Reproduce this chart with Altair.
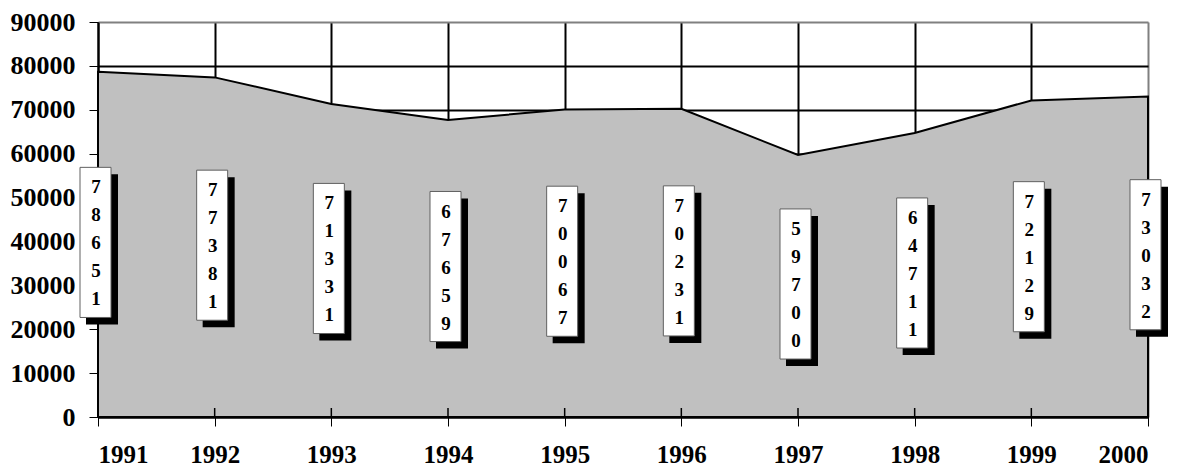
import altair as alt
import pandas as pd

years = [1991, 1992, 1993, 1994, 1995, 1996, 1997, 1998, 1999, 2000]
values = [78651, 77381, 71331, 67659, 70067, 70231, 59700, 64711, 72129, 73032]
y_ticks = [0, 10000, 20000, 30000, 40000, 50000, 60000, 70000, 80000, 90000]

df = pd.DataFrame({"year": years, "value": values})
df["label"] = ["\n".join(str(v)) for v in values]

FONT = "Liberation Serif"

xscale = alt.Scale(domain=[1991, 2000], nice=False, zero=False, padding=0)
yscale = alt.Scale(domain=[0, 90000], nice=False, padding=0)

x_axis = alt.Axis(values=years, format="d", title=None, labelFont=FONT, labelFontWeight="bold",
                  labelFontSize=25, labelColor="black", labelPadding=16, tickSize=9,
                  tickColor="black", tickWidth=1, domainColor="black", domainWidth=2,
                  grid=True, gridWidth=2,
                  gridColor={"condition": {"test": "datum.value === 2000", "value": "#808080"}, "value": "black"})
y_axis = alt.Axis(values=y_ticks, format="d", title=None, labelFont=FONT, labelFontWeight="bold",
                  labelFontSize=26, labelColor="black", labelPadding=14, tickSize=9,
                  tickColor="black", tickWidth=1, domainColor="black", domainWidth=2,
                  grid=True, gridWidth=2,
                  gridColor={"condition": {"test": "datum.value === 90000", "value": "#808080"}, "value": "black"})

base = alt.Chart(df)

X = alt.X("year:Q", scale=xscale, axis=x_axis)

area = base.mark_area(color="#C0C0C0", stroke="black", strokeWidth=2).encode(
    x=X,
    y=alt.Y("value:Q", scale=yscale, axis=y_axis),
)

ticks = base.mark_rule(color="black", strokeWidth=1.5).encode(
    x=X,
    y=alt.value(395),
    y2=alt.value(386),
)

boxes = base.transform_calculate(
    top="datum.value / 2 + 17100", bot="datum.value / 2 - 17100"
)

shadow = boxes.mark_bar(color="black", width=32, xOffset=4, yOffset=5, y2Offset=5).encode(
    x=X,
    y=alt.Y("top:Q", scale=yscale, axis=y_axis),
    y2="bot:Q",
)

box = boxes.mark_bar(fill="white", stroke="#606060", strokeWidth=1, width=31, xOffset=-2.5,
                     yOffset=-2, y2Offset=-2).encode(
    x=X,
    y=alt.Y("top:Q", scale=yscale, axis=y_axis),
    y2="bot:Q",
)

text = boxes.transform_calculate(mid="datum.value / 2").mark_text(
    font=FONT, fontWeight="bold", fontSize=19, color="black", lineBreak="\n",
    lineHeight=28, baseline="middle", align="center", dx=-2, dy=-57
).encode(
    x=X,
    y=alt.Y("mid:Q", scale=yscale, axis=y_axis),
    text="label:N",
)

chart = alt.layer(area, ticks, shadow, box, text).properties(
    width=1050, height=395,
    autosize=alt.AutoSizeParams(type="none"),
    padding={"left": 90, "top": 14, "right": 30, "bottom": 50},
).configure_view(strokeWidth=0).configure(background="white")

chart.save("out.html", embed_options={"renderer": "svg", "actions": False})
